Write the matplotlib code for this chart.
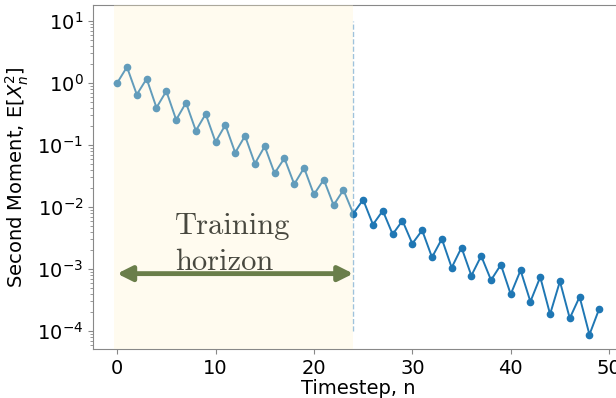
import matplotlib
matplotlib.use("Agg")
import matplotlib.pyplot as plt
import numpy as np

# second moment E[X_n^2] per timestep
steps = np.arange(50)
moment = [1.0, 1.81, 0.65, 1.17, 0.40, 0.74, 0.255, 0.48, 0.17, 0.316,
          0.112, 0.21, 0.075, 0.14, 0.050, 0.095, 0.035, 0.061, 0.0233, 0.0427,
          0.0159, 0.0276, 0.0107, 0.0188, 0.0078, 0.0131, 0.0052, 0.0087, 0.00363, 0.0060,
          0.00256, 0.0042, 0.00154, 0.00305, 0.00105, 0.00221, 0.00078, 0.00162, 0.00066, 0.00117,
          0.00039, 0.00095, 0.000297, 0.00074, 0.000186, 0.00063, 0.000160, 0.000355, 0.000087, 0.000229]
horizon = 24
span_start = -0.3
arrow_y = 8.4e-4

fig = plt.figure(figsize=(6.16, 3.98), dpi=100)
ax = fig.add_axes([0.151, 0.123, 0.861, 0.864])

ax.plot(steps, moment, '-o', color='#1f77b4', lw=1.4, ms=4.5, zorder=2)
ax.set_yscale('log')
ax.set_xlim(-2.45, 51.45)
ax.set_ylim(5.1e-5, 18)

# training region shading drawn over the line to wash it out
ax.axvspan(span_start, horizon, color='#fff3cc', alpha=0.3, lw=0, zorder=3)
ax.vlines(horizon, 1e-4, 1e1, colors='#9fc2dc', linestyles='--', lw=1, zorder=1)

ax.annotate('', xy=(0, arrow_y), xytext=(horizon, arrow_y),
            arrowprops=dict(arrowstyle='<|-|>', color='#6a7e4a', lw=3.5, mutation_scale=22,
                            shrinkA=0, shrinkB=0), zorder=4)
ax.text(5.9, 2.5e-3, 'Training\nhorizon', fontname='cmr10', fontsize=22, color='#48483f',
        linespacing=1.38, va='center', ha='left', zorder=4)

ax.set_xticks([0, 10, 20, 30, 40, 50])
ax.set_xlabel('Timestep, n', fontsize=14, labelpad=1)
ax.set_ylabel(r'Second Moment, E[$X_n^2$]', fontsize=14, labelpad=4)
ax.tick_params(labelsize=14, color='#888888')
ax.tick_params(which='minor', color='#888888')
for s in ax.spines.values():
    s.set_color('#888888')

plt.savefig('out.png', dpi=100)
